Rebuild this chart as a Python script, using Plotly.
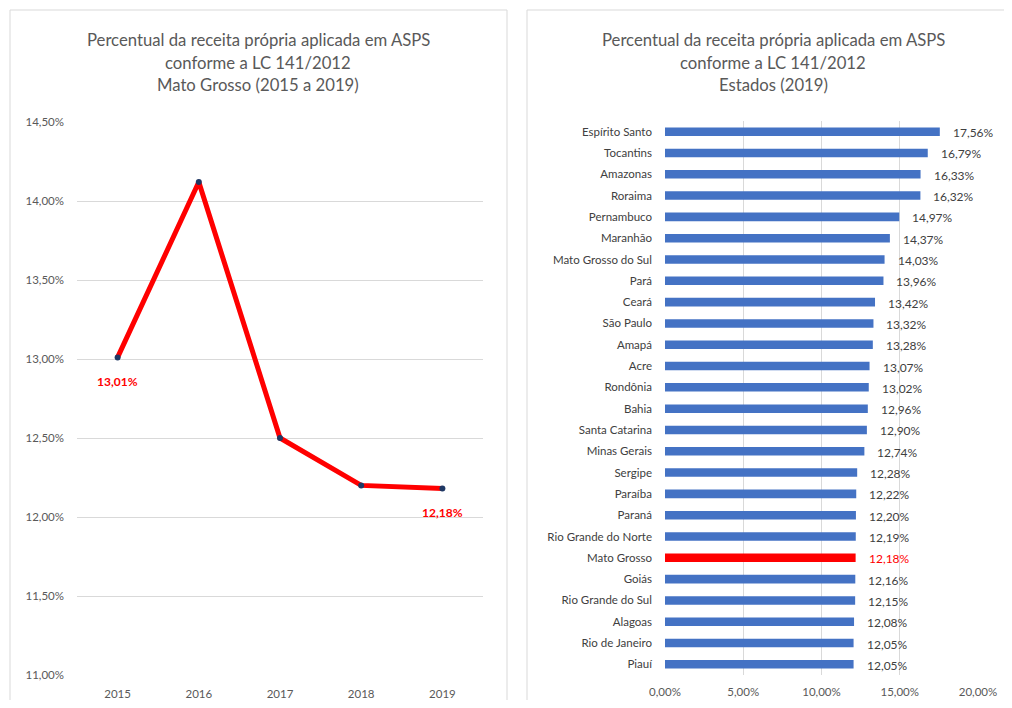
import plotly.graph_objects as go

# ---- data ----
years = ["2015", "2016", "2017", "2018", "2019"]
mt_values = [13.01, 14.12, 12.50, 12.20, 12.18]
mt_labels = ["13,01%", "", "", "", "12,18%"]

states = ["Espírito Santo", "Tocantins", "Amazonas", "Roraima", "Pernambuco", "Maranhão",
          "Mato Grosso do Sul", "Pará", "Ceará", "São Paulo", "Amapá", "Acre", "Rondônia",
          "Bahia", "Santa Catarina", "Minas Gerais", "Sergipe", "Paraíba", "Paraná",
          "Rio Grande do Norte", "Mato Grosso", "Goiás", "Rio Grande do Sul", "Alagoas",
          "Rio de Janeiro", "Piauí"]
state_values = [17.56, 16.79, 16.33, 16.32, 14.97, 14.37, 14.03, 13.96, 13.42, 13.32, 13.28,
                13.07, 13.02, 12.96, 12.90, 12.74, 12.28, 12.22, 12.20, 12.19, 12.18, 12.16,
                12.15, 12.08, 12.05, 12.05]
highlight = "Mato Grosso"

left_title = ["Percentual da receita própria aplicada em ASPS", "conforme a LC 141/2012",
              "Mato Grosso (2015 a 2019)"]
right_title = ["Percentual da receita própria aplicada em ASPS", "conforme a LC 141/2012",
               "Estados (2019)"]

# ---- layout helpers (page pixel -> paper), page body has an 8px margin ----
OFF = 8
W, H = 1012 - 2 * OFF, 708 - 2 * OFF
def px(x): return (x - OFF) / W
def py(y): return 1 - (y - OFF) / H

FONT = "Lato, 'Open Sans', sans-serif"
GRAY = "#595959"
GRID = "#d9d9d9"
BLUE = "#4472C4"
RED = "#FF0000"

fig = go.Figure()

# left line chart
fig.add_trace(go.Scatter(
    x=years, y=mt_values, mode="lines+markers",
    line=dict(color=RED, width=5),
    marker=dict(color="#1F3864", size=6),
    xaxis="x", yaxis="y", showlegend=False, hoverinfo="x+y"))

# right bar chart
bar_colors = [RED if s == highlight else BLUE for s in states]
fig.add_trace(go.Bar(
    x=state_values, y=states, orientation="h",
    marker=dict(color=bar_colors, line=dict(width=0)),
    width=0.4, xaxis="x2", yaxis="y2", showlegend=False))

annotations = []
for i, (yr, v, lab) in enumerate(zip(years, mt_values, mt_labels)):
    if lab:
        annotations.append(dict(x=i, y=v, xref="x", yref="y", text="<b>" + lab + "</b>",
                                showarrow=False, yshift=-24,
                                font=dict(family=FONT, size=12, color=RED)))
for s, v in zip(states, state_values):
    lab = ("%.2f" % v).replace(".", ",") + "%"
    col = RED if s == highlight else "#404040"
    annotations.append(dict(x=v, y=s, xref="x2", yref="y2", text=lab, showarrow=False,
                            xanchor="left", xshift=11, yshift=-1,
                            font=dict(family=FONT, size=12, color=col)))

for i, t in enumerate(left_title):
    annotations.append(dict(x=px(258), y=py(40 + i * 22.5), xref="paper", yref="paper",
                            text=t, showarrow=False, xanchor="center", yanchor="middle",
                            font=dict(family=FONT, size=16.7, color=GRAY)))
for i, t in enumerate(right_title):
    annotations.append(dict(x=px(773), y=py(40 + i * 22.5), xref="paper", yref="paper",
                            text=t, showarrow=False, xanchor="center", yanchor="middle",
                            font=dict(family=FONT, size=16.7, color=GRAY)))

border = dict(color=GRID, width=1)
shapes = [
    dict(type="rect", xref="paper", yref="paper", x0=px(10), x1=px(507), y0=py(730), y1=py(10),
         line=border, fillcolor="rgba(0,0,0,0)", layer="below"),
    dict(type="line", xref="paper", yref="paper", x0=px(527), x1=px(1012), y0=py(10), y1=py(10),
         line=border, layer="below"),
    dict(type="line", xref="paper", yref="paper", x0=px(527), x1=px(527), y0=py(10), y1=py(730),
         line=border, layer="below"),
]

fig.update_layout(
    template="none",
    width=W, height=H,
    margin=dict(l=0, r=0, t=0, b=0, autoexpand=False),
    paper_bgcolor="white", plot_bgcolor="white",
    separators=",.",
    font=dict(family=FONT, size=10, color=GRAY),
    xaxis=dict(domain=[px(77), px(483)], range=[-0.5, 4.5], type="category",
               showgrid=False, zeroline=False, showline=False, ticks="", automargin=False,
               ticklabelstandoff=10, tickfont=dict(family=FONT, size=11.5, color=GRAY),
               anchor="y", fixedrange=True),
    yaxis=dict(domain=[py(675), py(122)], range=[11, 14.5], dtick=0.5, tick0=11,
               tickformat=".2f", ticksuffix="%", showgrid=True, gridcolor=GRID, gridwidth=1,
               zeroline=False, showline=False, ticks="", ticklabelstandoff=12, automargin=False,
               tickfont=dict(family=FONT, size=11.5, color=GRAY), anchor="x"),
    xaxis2=dict(domain=[px(665), px(978)], range=[0, 20], dtick=5, tick0=0,
                tickformat=".2f", ticksuffix="%", showgrid=True, gridcolor=GRID, gridwidth=1,
                zeroline=False, showline=False, ticks="", ticklabelstandoff=8, automargin=False,
                tickfont=dict(family=FONT, size=11.5, color=GRAY), anchor="y2"),
    yaxis2=dict(domain=[py(675), py(121)], type="category",
                categoryorder="array", categoryarray=list(reversed(states)),
                showgrid=False, zeroline=False, showline=False, ticks="", automargin=False,
                ticklabelstandoff=12, tickfont=dict(family=FONT, size=11.5, color="#404040"),
                anchor="x2"),
    annotations=annotations,
    shapes=shapes,
)

fig.write_html("out.html")
